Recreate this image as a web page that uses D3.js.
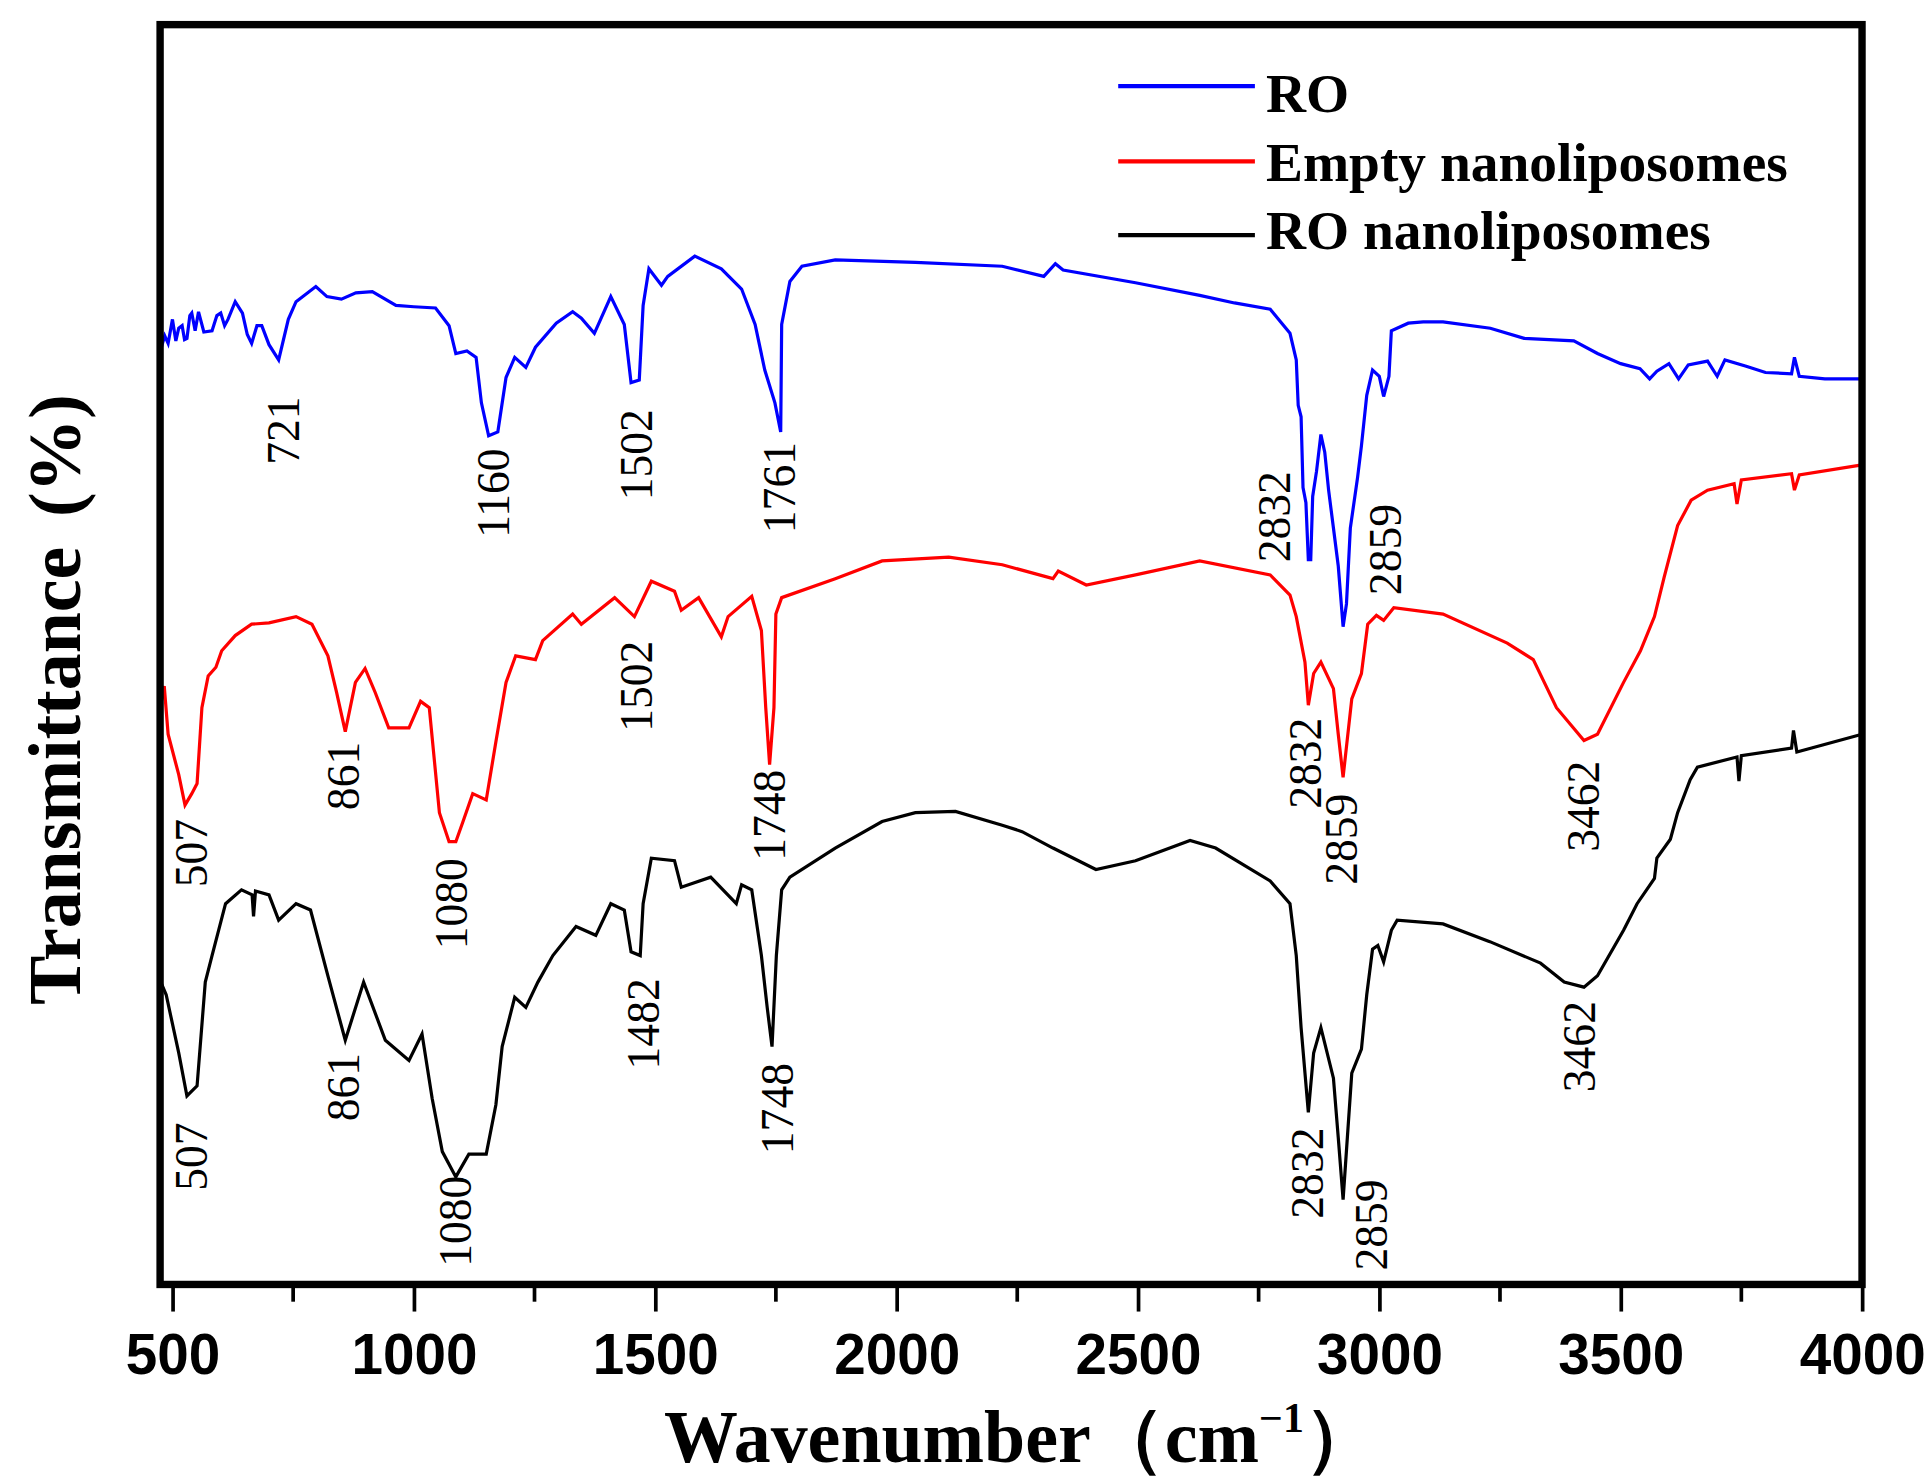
<!DOCTYPE html>
<html>
<head>
<meta charset="utf-8">
<script src="https://cdn.jsdelivr.net/npm/d3@7"></script>
<style>
  body { margin: 0; background: #fff; }
  svg { display: block; }
</style>
</head>
<body>
<div id="chart"></div>
<script>
// FTIR spectra: [wavenumber, transmittance (arbitrary units)]
const roSpectrum = [
  [477, 74.3], [484, 75.2], [491, 74.6], [500, 76.5], [507, 74.8], [513, 75.8], [520, 76.0], [525, 74.9],
  [530, 75.0], [536, 76.8], [540, 77.0], [547, 75.6], [554, 77.1], [565, 75.5], [582, 75.6], [592, 76.8],
  [600, 77.0], [608, 76.0], [615, 76.5], [630, 77.9], [645, 77.0], [655, 75.3], [664, 74.6], [675, 76.0],
  [685, 76.0], [700, 74.5], [720, 73.3], [740, 76.5], [756, 77.9],
  [797, 79.1], [820, 78.3], [850, 78.1], [880, 78.6], [914, 78.7], [963, 77.6], [1000, 77.5],
  [1045, 77.4], [1073, 76.0], [1087, 73.8], [1110, 74.0], [1129, 73.5], [1140, 69.9], [1155, 67.3],
  [1174, 67.6], [1191, 71.9], [1209, 73.5], [1232, 72.7], [1252, 74.3], [1295, 76.2], [1329, 77.1],
  [1347, 76.6], [1374, 75.4], [1408, 78.3], [1436, 76.1], [1450, 71.5], [1467, 71.7], [1475, 77.6],
  [1487, 80.5], [1513, 79.2], [1526, 79.9], [1582, 81.5], [1637, 80.5], [1679, 78.9], [1707, 76.1],
  [1727, 72.5], [1748, 69.9], [1760, 67.6], [1762, 76.1], [1779, 79.5], [1804, 80.7], [1873, 81.2],
  [2039, 81.0], [2219, 80.7], [2305, 79.9], [2329, 80.9], [2345, 80.4], [2495, 79.4], [2628, 78.4],
  [2700, 77.8], [2774, 77.3], [2815, 75.4], [2828, 73.3], [2832, 69.7], [2838, 68.8], [2842, 63.2],
  [2848, 62.0], [2853, 57.5], [2858, 57.5], [2862, 62.5], [2870, 64.5], [2879, 67.4], [2887, 66.0],
  [2895, 63.0], [2905, 60.0], [2915, 57.0], [2925, 52.2], [2932, 54.0], [2940, 60.0], [2955, 64.0],
  [2963, 66.5], [2974, 70.5], [2986, 72.5], [3000, 72.0], [3009, 70.4], [3020, 72.0], [3025, 75.6],
  [3060, 76.2], [3091, 76.3], [3132, 76.3], [3230, 75.8], [3300, 75.0], [3403, 74.8], [3452, 73.8],
  [3500, 73.0], [3540, 72.6], [3560, 71.8], [3575, 72.4], [3600, 73.0], [3620, 71.8], [3640, 72.9],
  [3680, 73.2], [3700, 72.0], [3716, 73.3], [3760, 72.8], [3800, 72.3], [3854, 72.2], [3860, 73.5],
  [3870, 72.0], [3923, 71.8], [4000, 71.8]
];

const emptySpectrum = [
  [477, 46.3], [483, 47.5], [491, 43.7], [513, 40.5], [526, 38.1], [540, 39.0], [551, 39.8],
  [561, 45.8], [574, 48.3], [590, 49.0], [602, 50.3], [630, 51.5], [664, 52.4], [700, 52.5],
  [756, 53.0], [789, 52.4], [822, 49.9], [840, 47.0], [858, 43.9], [879, 47.8], [899, 48.9],
  [920, 47.0], [948, 44.2], [990, 44.2], [1014, 46.3], [1032, 45.8], [1053, 37.5], [1073, 35.2],
  [1087, 35.2], [1101, 36.7], [1122, 39.0], [1150, 38.5], [1170, 43.1], [1191, 47.8], [1211, 49.9],
  [1252, 49.6], [1267, 51.1], [1329, 53.2], [1347, 52.4], [1416, 54.5], [1457, 53.0], [1492, 55.8],
  [1540, 55.0], [1554, 53.5], [1590, 54.5], [1637, 51.4], [1651, 53.0], [1700, 54.6], [1720, 51.9],
  [1729, 45.8], [1737, 41.3], [1746, 45.8], [1750, 53.2], [1762, 54.5], [1873, 56.0], [1970, 57.4],
  [2108, 57.7], [2219, 57.1], [2324, 56.0], [2335, 56.6], [2393, 55.5], [2495, 56.3], [2628, 57.4],
  [2774, 56.3], [2815, 54.7], [2828, 53.0], [2846, 49.4], [2853, 46.0], [2864, 48.5], [2879, 49.4],
  [2905, 47.3], [2915, 43.7], [2925, 40.3], [2943, 46.5], [2963, 48.5], [2976, 52.4], [2994, 53.1],
  [3009, 52.7], [3030, 53.7], [3132, 53.2], [3265, 50.9], [3319, 49.6], [3367, 45.8], [3424, 43.2],
  [3452, 43.7], [3506, 47.8], [3541, 50.3], [3570, 53.0], [3590, 56.1], [3618, 60.2], [3646, 62.2],
  [3680, 63.0], [3735, 63.5], [3741, 61.9], [3750, 63.8], [3854, 64.3], [3860, 63.0], [3870, 64.2],
  [4000, 65.0]
];

const roNanoSpectrum = [
  [477, 24.0], [487, 23.1], [513, 18.5], [530, 15.1], [551, 15.9], [568, 24.1], [582, 26.2],
  [610, 30.3], [643, 31.4], [665, 31.0], [668, 29.3], [672, 31.3], [700, 31.0], [720, 29.0],
  [756, 30.3], [786, 29.8], [822, 24.6], [858, 19.5], [896, 24.1], [941, 19.5], [990, 17.9],
  [1017, 20.0], [1038, 14.9], [1059, 10.7], [1087, 8.7], [1114, 10.5], [1150, 10.5], [1170, 14.4],
  [1183, 19.0], [1209, 22.9], [1232, 22.1], [1257, 24.1], [1288, 26.2], [1336, 28.5], [1377, 27.8],
  [1408, 30.3], [1436, 29.8], [1450, 26.5], [1469, 26.2], [1475, 30.3], [1492, 33.9], [1540, 33.7],
  [1554, 31.6], [1615, 32.4], [1668, 30.3], [1679, 31.8], [1700, 31.4], [1720, 26.2], [1732, 22.1],
  [1742, 19.0], [1751, 26.2], [1762, 31.4], [1779, 32.4], [1873, 34.7], [1970, 36.8], [2039, 37.5],
  [2122, 37.6], [2219, 36.5], [2260, 36.0], [2324, 34.7], [2413, 33.0], [2495, 33.7], [2608, 35.3],
  [2661, 34.7], [2774, 32.1], [2815, 30.3], [2828, 26.2], [2838, 20.5], [2853, 13.8], [2864, 18.5],
  [2879, 20.5], [2905, 16.5], [2915, 11.8], [2925, 6.9], [2943, 16.9], [2963, 18.8], [2974, 23.1],
  [2986, 26.7], [2997, 27.0], [3009, 25.7], [3025, 28.2], [3037, 29.0], [3132, 28.7], [3229, 27.3],
  [3334, 25.6], [3383, 24.1], [3424, 23.7], [3452, 24.6], [3506, 28.2], [3534, 30.3], [3570, 32.3],
  [3575, 33.9], [3603, 35.4], [3618, 37.5], [3644, 40.1], [3659, 41.1], [3741, 41.9], [3745, 40.0],
  [3750, 42.0], [3854, 42.6], [3858, 44.0], [3865, 42.3], [4000, 43.7]
];

const seriesNames = ["RO", "Empty nanoliposomes", "RO nanoliposomes"];
const seriesColors = ["#0000ff", "#ff0000", "#000000"];
const xTicks = [500, 1000, 1500, 2000, 2500, 3000, 3500, 4000];
const xMinorTicks = [750, 1250, 1750, 2250, 2750, 3250, 3750];

// peak annotations: label, wavenumber of the label centre, value at the top of the label
const peakText = ["721", "1160", "1502", "1761", "2832", "2859",
                  "507", "861", "1080", "1502", "1748", "2832", "2859", "3462",
                  "507", "861", "1080", "1482", "1748", "2832", "2859", "3462"];
const peakWave = [732, 1165, 1462, 1758, 2783, 3014,
                  541, 855, 1080, 1462, 1738, 2848, 2922, 3424,
                  541, 855, 1087, 1477, 1755, 2853, 2984, 3416];
const peakTop = [70.4, 66.3, 69.4, 66.8, 64.5, 61.9,
                 37.0, 43.1, 33.9, 51.1, 40.9, 45.0, 39.0, 41.6,
                 13.0, 18.5, 8.8, 24.4, 17.7, 12.6, 8.5, 22.6];

// drawing in the reference's own proportions, scaled up to the window
const W = 1568, H = 1202.6;
const box = { left: 130, right: 1512, top: 20, bottom: 1043 };

const svg = d3.select("#chart").append("svg")
  .attr("width", 1931)
  .attr("height", 1481)
  .attr("viewBox", `0 0 ${W} ${H}`);

const x = d3.scaleLinear().domain([474.4, 4000]).range([box.left, box.right]);
const y = d3.scaleLinear().domain([0, 100]).range([1045, 18]);

const serif = "'Liberation Serif', 'Times New Roman', serif";

// spectra
const line = d3.line().x(d => x(d[0])).y(d => y(d[1]));
[roSpectrum, emptySpectrum, roNanoSpectrum].forEach((s, i) => {
  svg.append("path")
    .datum(s)
    .attr("d", line)
    .attr("fill", "none")
    .attr("stroke", seriesColors[i])
    .attr("stroke-width", 2.6);
});

// peak labels
svg.append("g")
  .selectAll("text")
  .data(peakText)
  .join("text")
    .attr("transform", (d, i) => `translate(${x(peakWave[i])},${y(peakTop[i])}) rotate(-90)`)
    .attr("dy", "0.33em")
    .attr("text-anchor", "end")
    .style("font-family", serif)
    .style("font-size", "37px")
    .text(d => d);

// frame
svg.append("rect")
  .attr("x", box.left).attr("y", box.top)
  .attr("width", box.right - box.left).attr("height", box.bottom - box.top)
  .attr("fill", "none").attr("stroke", "#000").attr("stroke-width", 6);

// x axis ticks and labels
const xAxis = d3.axisBottom(x).tickValues(xTicks).tickFormat(d3.format("d")).tickSize(22).tickSizeOuter(0);
const gx = svg.append("g").attr("transform", `translate(0,${box.bottom})`).call(xAxis);
gx.select(".domain").remove();
gx.selectAll(".tick line").attr("stroke", "#000").attr("stroke-width", 3);
gx.selectAll(".tick text")
  .attr("y", 73)
  .attr("dy", 0)
  .attr("fill", "#000")
  .style("font-family", "'Liberation Sans', Arial, sans-serif")
  .style("font-weight", "bold")
  .style("font-size", "46px");

svg.append("g")
  .selectAll("line")
  .data(xMinorTicks)
  .join("line")
    .attr("x1", d => x(d)).attr("x2", d => x(d))
    .attr("y1", box.bottom).attr("y2", box.bottom + 14)
    .attr("stroke", "#000").attr("stroke-width", 3);

// axis titles
const xTitle = svg.append("text")
  .attr("x", 829).attr("y", 1187)
  .attr("text-anchor", "middle")
  .style("font-family", serif)
  .style("font-weight", "bold")
  .style("font-size", "60px");
xTitle.append("tspan").text("Wavenumber");
xTitle.append("tspan").text("（cm");
xTitle.append("tspan").attr("dy", -24).style("font-size", "34px").text("−1");
xTitle.append("tspan").attr("dy", 24).text("）");

const yTitle = svg.append("text")
  .attr("transform", "translate(65,816) rotate(-90)")
  .attr("text-anchor", "start")
  .style("font-family", serif)
  .style("font-weight", "bold")
  .style("font-size", "60px");
yTitle.append("tspan").text("Transmittance");
yTitle.append("tspan").attr("dx", 24).text("(%)");

// legend
const legendLineY = [70, 131, 191];
const legendTextY = [91, 147, 202];
const legend = svg.append("g");
seriesNames.forEach((name, i) => {
  legend.append("line")
    .attr("x1", 908).attr("x2", 1019)
    .attr("y1", legendLineY[i]).attr("y2", legendLineY[i])
    .attr("stroke", seriesColors[i]).attr("stroke-width", 3.5);
  legend.append("text")
    .attr("x", 1028).attr("y", legendTextY[i])
    .style("font-family", serif)
    .style("font-weight", "bold")
    .style("font-size", "45px")
    .text(name);
});
</script>
</body>
</html>
